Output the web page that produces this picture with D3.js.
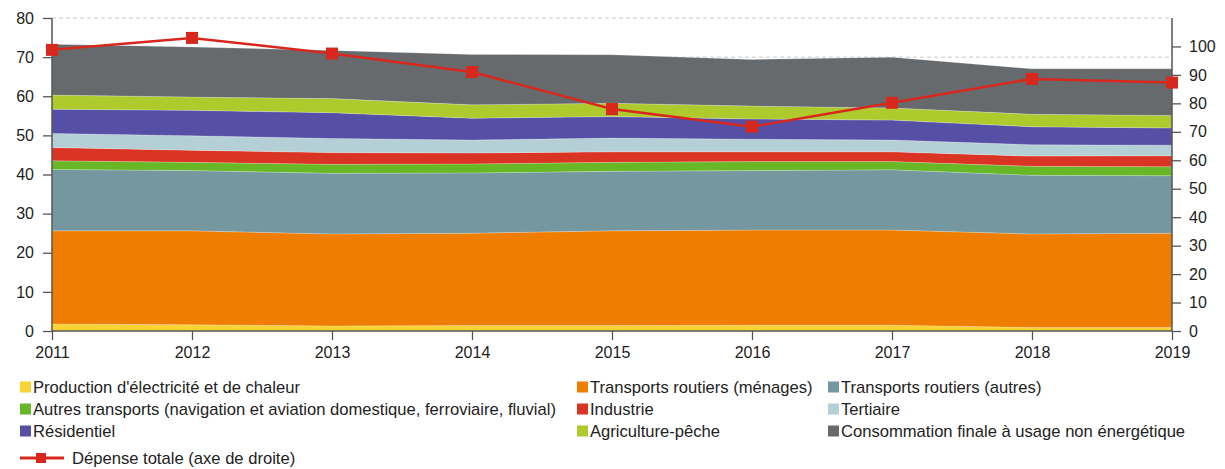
<!DOCTYPE html>
<html>
<head>
<meta charset="utf-8">
<script src="https://cdn.jsdelivr.net/npm/d3@7"></script>
<style>
  body { margin: 0; background: #fff; }
  svg { display: block; font-family: "Liberation Sans", Arial, Helvetica, sans-serif; }
</style>
</head>
<body>
<svg id="chart" width="1225" height="469"></svg>
<script>
// Years on the horizontal axis
const years = [2011, 2012, 2013, 2014, 2015, 2016, 2017, 2018, 2019];

// Stacked series (left axis), bottom to top
const production = [1.8, 1.6, 1.3, 1.4, 1.4, 1.5, 1.5, 0.9, 0.9];
const routiersMenages = [23.8, 24.0, 23.5, 23.6, 24.2, 24.3, 24.3, 23.9, 24.1];
const routiersAutres = [15.7, 15.4, 15.5, 15.4, 15.2, 15.2, 15.4, 15.0, 14.7];
const autresTransports = [2.2, 2.1, 2.3, 2.3, 2.3, 2.3, 2.1, 2.3, 2.3];
const industrie = [3.4, 3.1, 3.0, 2.8, 2.7, 2.5, 2.5, 2.6, 2.8];
const tertiaire = [3.6, 3.7, 3.6, 3.3, 3.5, 3.2, 3.0, 2.9, 2.7];
const residentiel = [6.2, 6.5, 6.6, 5.6, 5.5, 5.2, 5.1, 4.6, 4.4];
const agriculture = [3.6, 3.4, 3.6, 3.4, 3.4, 3.3, 3.1, 3.2, 3.2];
const nonEnergetique = [13.0, 12.8, 12.3, 12.9, 12.4, 11.9, 13.0, 11.6, 11.9];

// Line series (right axis)
const depenseTotale = [98.8, 103.0, 97.5, 91.0, 78.0, 71.8, 80.2, 88.6, 87.3];

// Axis ticks
const leftTicks = [0, 10, 20, 30, 40, 50, 60, 70, 80];
const rightTicks = [0, 10, 20, 30, 40, 50, 60, 70, 80, 90, 100];

const seriesDefs = [
  { key: "production", label: "Production d'électricité et de chaleur", values: production, color: "#F9D233" },
  { key: "routiersMenages", label: "Transports routiers (ménages)", values: routiersMenages, color: "#EF7D00" },
  { key: "routiersAutres", label: "Transports routiers (autres)", values: routiersAutres, color: "#75979F" },
  { key: "autresTransports", label: "Autres transports (navigation et aviation domestique, ferroviaire, fluvial)", values: autresTransports, color: "#67B726" },
  { key: "industrie", label: "Industrie", values: industrie, color: "#D93424" },
  { key: "tertiaire", label: "Tertiaire", values: tertiaire, color: "#B5CFD6" },
  { key: "residentiel", label: "Résidentiel", values: residentiel, color: "#5550A6" },
  { key: "agriculture", label: "Agriculture-pêche", values: agriculture, color: "#AFCA2C" },
  { key: "nonEnergetique", label: "Consommation finale à usage non énergétique", values: nonEnergetique, color: "#676A6D" }
];

const lineColor = "#D8281E";
const axisColor = "#555";
const textColor = "#222";

const svg = d3.select("#chart");
const plot = { left: 52, right: 1172, top: 18, bottom: 331 };

const x = d3.scaleLinear().domain([2011, 2019]).range([plot.left, plot.right]);
const yL = d3.scaleLinear().domain([0, 80]).range([plot.bottom, plot.top]);
const yR = d3.scaleLinear().domain([0, 110]).range([plot.bottom, plot.top]);

// Build rows for the stack
const rows = years.map((yr, i) => {
  const r = { year: yr };
  seriesDefs.forEach(s => { r[s.key] = s.values[i]; });
  return r;
});
const stack = d3.stack().keys(seriesDefs.map(s => s.key));
const stacked = stack(rows);

// Dashed grid lines behind the areas
svg.append("g")
  .selectAll("line")
  .data(leftTicks.filter(d => d > 0))
  .join("line")
  .attr("x1", plot.left).attr("x2", plot.right)
  .attr("y1", d => yL(d)).attr("y2", d => yL(d))
  .attr("stroke", "#c8c8c8")
  .attr("stroke-width", 1)
  .attr("stroke-dasharray", "4,3");

// Stacked areas
const area = d3.area()
  .x((d, i) => x(years[i]))
  .y0(d => yL(d[0]))
  .y1(d => yL(d[1]));

svg.append("g")
  .selectAll("path")
  .data(stacked)
  .join("path")
  .attr("d", area)
  .attr("fill", (d, i) => seriesDefs[i].color)
  .attr("stroke", "rgba(255,255,255,0.35)")
  .attr("stroke-width", 0.6);

// Axes
const leftAxis = d3.axisLeft(yL).tickValues(leftTicks).tickSize(9).tickPadding(9);
const rightAxis = d3.axisRight(yR).tickValues(rightTicks).tickSize(9).tickPadding(8);
const bottomAxis = d3.axisBottom(x).tickValues(years).tickFormat(d3.format("d")).tickSize(9).tickPadding(7);

function styleAxis(g) {
  g.select(".domain").attr("stroke", axisColor).attr("stroke-width", 1.5);
  g.selectAll(".tick line").attr("stroke", axisColor).attr("stroke-width", 1.3);
  g.selectAll(".tick text").attr("fill", textColor).attr("font-size", 16)
    .attr("font-family", "'Liberation Sans', Arial, sans-serif");
}

svg.append("g").attr("transform", `translate(${plot.left},0)`).call(leftAxis).call(styleAxis)
  .call(g => g.select(".domain").attr("d", `M0,${plot.top}V${plot.bottom}`));
svg.append("g").attr("transform", `translate(${plot.right},0)`).call(rightAxis).call(styleAxis)
  .call(g => g.select(".domain").attr("d", `M0,${plot.top}V${plot.bottom}`));
svg.append("g").attr("transform", `translate(0,${plot.bottom})`).call(bottomAxis).call(styleAxis)
  .call(g => g.select(".domain").attr("d", `M${plot.left},0H${plot.right}`));

// Total spending line with square markers
const line = d3.line().x((d, i) => x(years[i])).y(d => yR(d));
svg.append("path")
  .datum(depenseTotale)
  .attr("d", line)
  .attr("fill", "none")
  .attr("stroke", lineColor)
  .attr("stroke-width", 2.5);

svg.append("g")
  .selectAll("rect")
  .data(depenseTotale)
  .join("rect")
  .attr("x", (d, i) => x(years[i]) - 6)
  .attr("y", d => yR(d) - 6)
  .attr("width", 12).attr("height", 12)
  .attr("fill", lineColor);

// Legend
const legendCols = [20, 577, 828];
const legendRows = [387, 409, 431];
const legendPos = [
  [0, 0], [1, 0], [2, 0],
  [0, 1], [1, 1], [2, 1],
  [0, 2], [1, 2], [2, 2]
];
const legend = svg.append("g").attr("font-size", 16.6).attr("fill", textColor);
const items = legend.selectAll("g")
  .data(seriesDefs)
  .join("g")
  .attr("transform", (d, i) => `translate(${legendCols[legendPos[i][0]]},${legendRows[legendPos[i][1]]})`);
items.append("rect").attr("x", 0).attr("y", -5.5).attr("width", 11).attr("height", 11).attr("fill", d => d.color);
items.append("text").attr("x", 13).attr("y", 6).text(d => d.label);

const lineLegend = legend.append("g").attr("transform", "translate(20,458)");
lineLegend.append("line").attr("x1", 0).attr("x2", 44).attr("y1", 0).attr("y2", 0)
  .attr("stroke", lineColor).attr("stroke-width", 3);
lineLegend.append("rect").attr("x", 16).attr("y", -5).attr("width", 10).attr("height", 10).attr("fill", lineColor);
lineLegend.append("text").attr("x", 52).attr("y", 6).text("Dépense totale (axe de droite)");
</script>
</body>
</html>
